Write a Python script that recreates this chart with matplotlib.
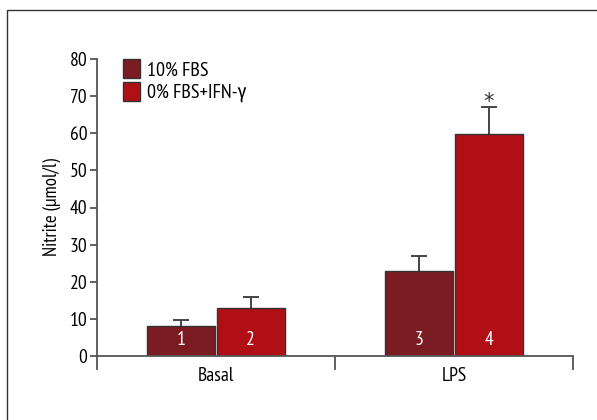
import matplotlib
matplotlib.use("Agg")
import matplotlib.pyplot as plt
import numpy as np
from matplotlib.patches import Rectangle

plt.rcParams['font.family'] = ['PT Sans Narrow', 'Fira Sans Condensed', 'DejaVu Sans']

groups = ["Basal", "LPS"]
series_names = ["10% FBS", "0% FBS+IFN-γ"]
fbs10 = [8.0, 22.8]
fbs0_ifn = [12.8, 59.8]
fbs10_err = [1.8, 4.2]
fbs0_ifn_err = [3.2, 7.2]
bar_numbers = [["1", "3"], ["2", "4"]]
colors = ["#7a1c22", "#b00f16"]

fig = plt.figure(figsize=(5.97, 4.2), dpi=100)
fig.patches.append(Rectangle((7 / 597, -0.1), 1.2, 1 - 10 / 420 + 0.1,
                             transform=fig.transFigure, fill=False,
                             edgecolor="#333333", linewidth=1.0, zorder=0))

ax = fig.add_axes([97 / 597, 1 - 356 / 420, (573 - 97) / 597, (356 - 59) / 420])

x = np.arange(len(groups))
w = 0.284
off = 0.146
cap = 0.034
vals = [fbs10, fbs0_ifn]
errs = [fbs10_err, fbs0_ifn_err]
for i, (v, e) in enumerate(zip(vals, errs)):
    pos = x + (-off if i == 0 else off)
    v = np.asarray(v)
    e = np.asarray(e)
    # upper-only error bars
    ax.vlines(pos, v, v + e, color="#444444", linewidth=1.4, zorder=1)
    ax.hlines(v + e, pos - cap, pos + cap, color="#444444", linewidth=1.4, zorder=1)
    ax.bar(pos, v, width=w, color=colors[i], edgecolor="#333333",
           linewidth=1.0, label=series_names[i], zorder=2)
    for p, lab in zip(pos, bar_numbers[i]):
        ax.text(p, 4.3, lab, color="white", ha="center", va="center", fontsize=14)

ax.text(x[1] + off, fbs0_ifn[1] + fbs0_ifn_err[1] - 1.3, "*", ha="center",
        va="bottom", fontsize=15, color="#333333", family="DejaVu Sans")

ax.set_xlim(-0.5, 1.5)
ax.set_ylim(0, 80)
ax.set_yticks(np.arange(0, 81, 10))
ax.set_xticks(x)
ax.set_xticklabels(groups)
ax.set_xticks([-0.5, 0.5, 1.5], minor=True)
ax.tick_params(axis="x", which="major", length=0, pad=8, labelsize=14)
ax.tick_params(axis="x", which="minor", length=10, width=1.2, color="#444444", direction="out")
ax.tick_params(axis="y", length=5, width=1.2, color="#444444", labelsize=14, pad=2)
for s in ["top", "right"]:
    ax.spines[s].set_visible(False)
for s in ["left", "bottom"]:
    ax.spines[s].set_color("#555555")
    ax.spines[s].set_linewidth(1.3)
ax.set_ylabel("Nitrite (µmol/l)", fontsize=13.5, labelpad=6)

ax.legend(loc="upper left", bbox_to_anchor=(0.055, 1.0), frameon=False,
          fontsize=14.5, handlelength=0.85, handleheight=1.1, handletextpad=0.35,
          labelspacing=0.1, borderaxespad=0, borderpad=0)

fig.savefig("out.png", dpi=100)
